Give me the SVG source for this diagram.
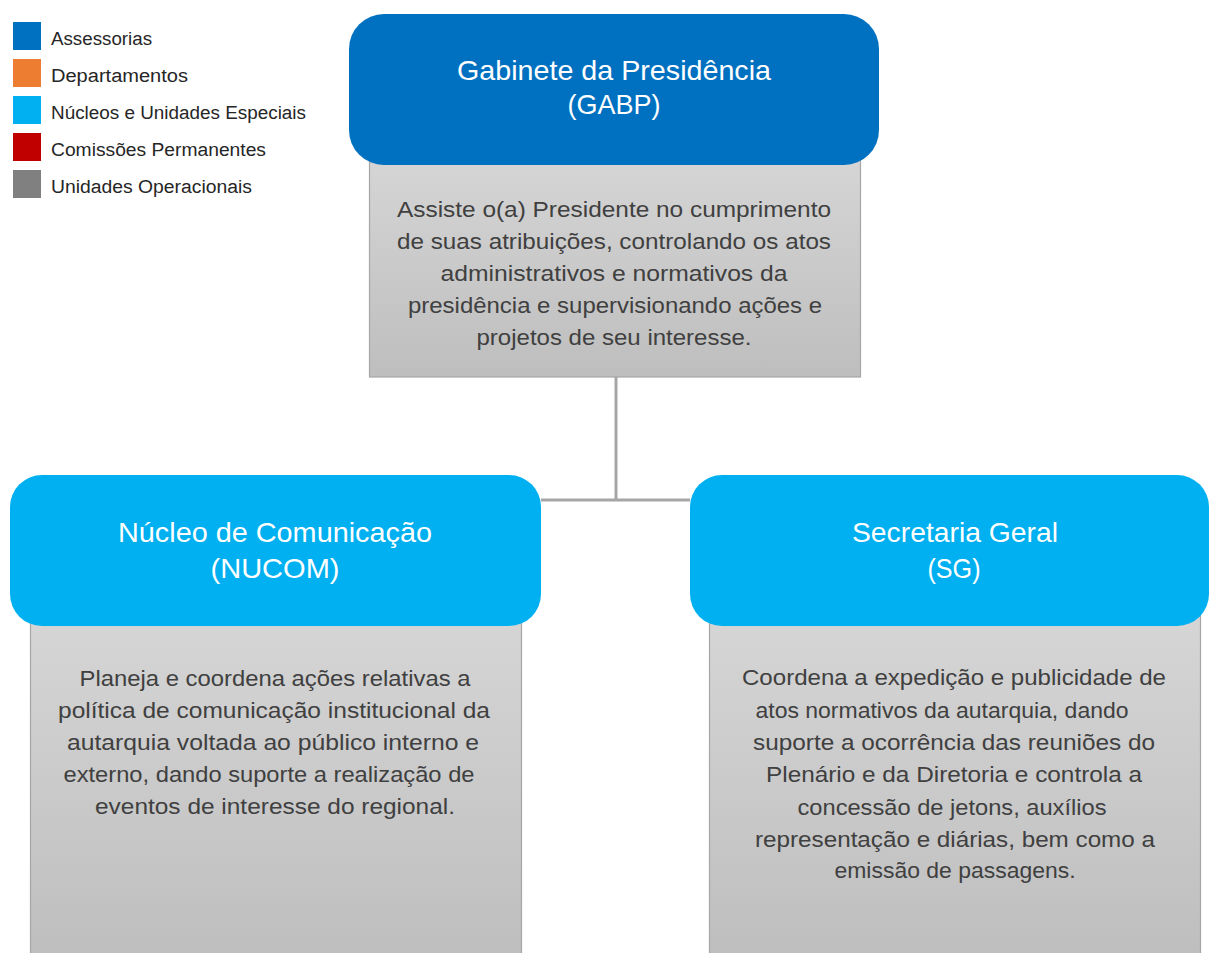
<svg xmlns="http://www.w3.org/2000/svg" width="1209" height="953" viewBox="0 0 1209 953">
  <defs>
    <linearGradient id="grayGrad" x1="0" y1="0" x2="0" y2="1">
      <stop offset="0" stop-color="#D6D6D6"/>
      <stop offset="1" stop-color="#BEBEBE"/>
    </linearGradient>
    <style>
      .legend-text { font-family: "Liberation Sans", Arial, sans-serif; font-size: 18px; fill: #262626; }
      .title { font-family: "Liberation Sans", Arial, sans-serif; font-size: 28px; fill: #FFFFFF; text-anchor: middle; }
      .body { font-family: "Liberation Sans", Arial, sans-serif; font-size: 22px; fill: #404040; text-anchor: middle; }
      .desc { fill: url(#grayGrad); stroke: #A6A6A6; stroke-width: 1.2; }
      .conn { fill: none; stroke: #A6A6A6; stroke-width: 3; }
    </style>
  </defs>
  <rect x="0" y="0" width="1209" height="953" fill="#FFFFFF"/>

  <g id="legend">
    <rect x="13" y="22" width="28" height="28" fill="#0070C0"/>
    <text class="legend-text" x="51" y="45" textLength="101" lengthAdjust="spacingAndGlyphs">Assessorias</text>
    <rect x="13" y="59" width="28" height="28" fill="#ED7D31"/>
    <text class="legend-text" x="51" y="82" textLength="137" lengthAdjust="spacingAndGlyphs">Departamentos</text>
    <rect x="13" y="96" width="28" height="28" fill="#00B0F0"/>
    <text class="legend-text" x="51" y="119" textLength="255" lengthAdjust="spacingAndGlyphs">Núcleos e Unidades Especiais</text>
    <rect x="13" y="133" width="28" height="28" fill="#C00000"/>
    <text class="legend-text" x="51" y="156" textLength="215" lengthAdjust="spacingAndGlyphs">Comissões Permanentes</text>
    <rect x="13" y="170" width="28" height="28" fill="#808080"/>
    <text class="legend-text" x="51" y="193" textLength="201" lengthAdjust="spacingAndGlyphs">Unidades Operacionais</text>
  </g>

  <g id="connectors">
    <line class="conn" x1="616" y1="377" x2="616" y2="500"/>
    <line class="conn" x1="541" y1="500" x2="690" y2="500"/>
  </g>

  <g id="gabp">
    <rect class="desc" x="369.5" y="150" width="491" height="227"/>
    <rect x="349" y="14" width="530" height="151" rx="35" ry="35" fill="#0070C0"/>
    <text class="title" x="614" y="80" textLength="314" lengthAdjust="spacingAndGlyphs">Gabinete da Presidência</text>
    <text class="title" x="614" y="114" textLength="93" lengthAdjust="spacingAndGlyphs">(GABP)</text>
    <text class="body" x="614" y="217" textLength="434" lengthAdjust="spacingAndGlyphs">Assiste o(a) Presidente no cumprimento</text>
    <text class="body" x="614" y="249" textLength="434" lengthAdjust="spacingAndGlyphs">de suas atribuições, controlando os atos</text>
    <text class="body" x="614" y="281" textLength="347" lengthAdjust="spacingAndGlyphs">administrativos e normativos da</text>
    <text class="body" x="615" y="313" textLength="414" lengthAdjust="spacingAndGlyphs">presidência e supervisionando ações e</text>
    <text class="body" x="614" y="345" textLength="275" lengthAdjust="spacingAndGlyphs">projetos de seu interesse.</text>
  </g>

  <g id="nucom">
    <rect class="desc" x="30.5" y="610" width="491" height="350"/>
    <rect x="10" y="475" width="531" height="151" rx="32" ry="32" fill="#00B0F0"/>
    <text class="title" x="275" y="542" textLength="314" lengthAdjust="spacingAndGlyphs">Núcleo de Comunicação</text>
    <text class="title" x="275" y="578" textLength="129" lengthAdjust="spacingAndGlyphs">(NUCOM)</text>
    <text class="body" x="275" y="686" textLength="391" lengthAdjust="spacingAndGlyphs">Planeja e coordena ações relativas a</text>
    <text class="body" x="274" y="718" textLength="432" lengthAdjust="spacingAndGlyphs">política de comunicação institucional da</text>
    <text class="body" x="273" y="750" textLength="412" lengthAdjust="spacingAndGlyphs">autarquia voltada ao público interno e</text>
    <text class="body" x="269" y="782" textLength="411" lengthAdjust="spacingAndGlyphs">externo, dando suporte a realização de</text>
    <text class="body" x="275" y="814" textLength="360" lengthAdjust="spacingAndGlyphs">eventos de interesse do regional.</text>
  </g>

  <g id="sg">
    <rect class="desc" x="709.5" y="610" width="491" height="350"/>
    <rect x="690" y="475" width="519" height="151" rx="32" ry="32" fill="#00B0F0"/>
    <text class="title" x="955" y="542" textLength="206" lengthAdjust="spacingAndGlyphs">Secretaria Geral</text>
    <text class="title" x="954" y="578" textLength="53" lengthAdjust="spacingAndGlyphs">(SG)</text>
    <text class="body" x="954" y="685" textLength="424" lengthAdjust="spacingAndGlyphs">Coordena a expedição e publicidade de</text>
    <text class="body" x="942" y="718" textLength="373" lengthAdjust="spacingAndGlyphs">atos normativos da autarquia, dando</text>
    <text class="body" x="954" y="750" textLength="402" lengthAdjust="spacingAndGlyphs">suporte a ocorrência das reuniões do</text>
    <text class="body" x="954" y="782" textLength="376" lengthAdjust="spacingAndGlyphs">Plenário e da Diretoria e controla a</text>
    <text class="body" x="952" y="815" textLength="309" lengthAdjust="spacingAndGlyphs">concessão de jetons, auxílios</text>
    <text class="body" x="955" y="847" textLength="400" lengthAdjust="spacingAndGlyphs">representação e diárias, bem como a</text>
    <text class="body" x="955" y="878" textLength="241" lengthAdjust="spacingAndGlyphs">emissão de passagens.</text>
  </g>
</svg>
